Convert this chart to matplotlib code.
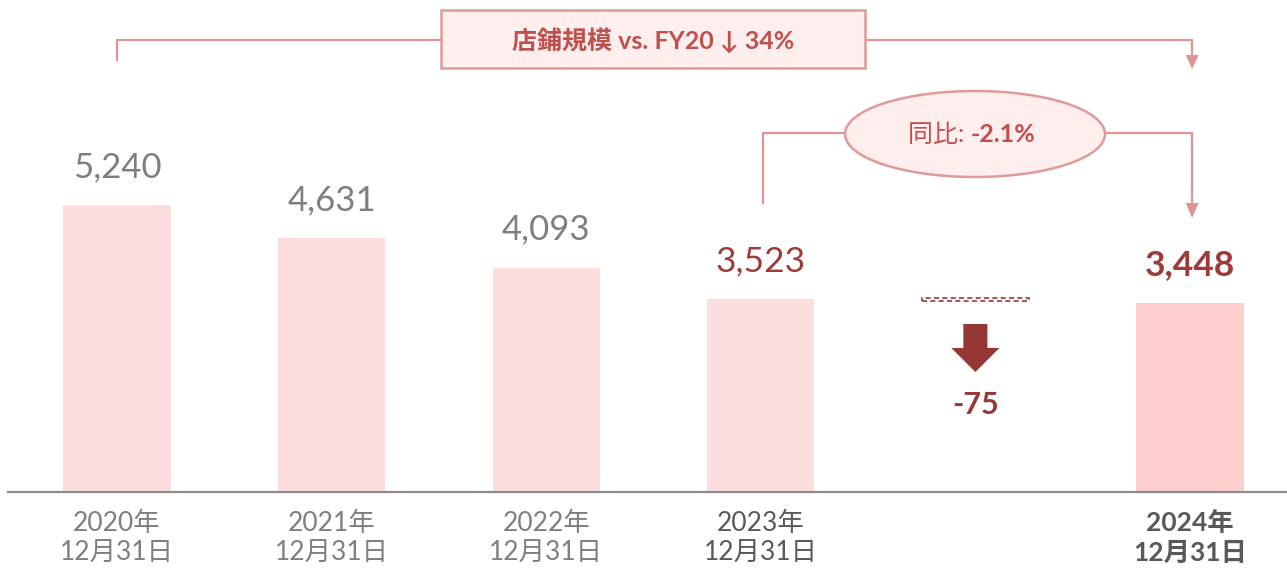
import matplotlib.pyplot as plt
from matplotlib.patches import Ellipse, Rectangle, FancyArrow

plt.rcParams['font.family'] = ['Lato', 'Noto Sans CJK JP', 'DejaVu Sans']

years = ['2020年', '2021年', '2022年', '2023年', '2024年']
dates = ['12月31日'] * 5
stores = [5240, 4631, 4093, 3523, 3448]
slots = [0, 1, 2, 3, 5]          # slot 4 holds the change marker

bar_col = ['#FDDEDE', '#FDDEDE', '#FDDEDE', '#FDDEDE', '#FFCFCF']
val_col = ['#7F7F7F', '#7F7F7F', '#7F7F7F', '#9E3A3A', '#9E3A3A']
val_w = ['normal'] * 4 + ['bold']
tick_col = ['#7F7F7F', '#7F7F7F', '#7F7F7F', '#595959', '#595959']
tick_w = ['normal'] * 4 + ['bold']

line_c = '#E09494'
red = '#C0504D'
dark = '#953735'

fig = plt.figure(figsize=(12.87, 5.70), dpi=100)
ax = fig.add_axes([0, 0, 1, 1])
ax.set_xlim(-0.545, 5.452)
ax.set_ylim(-1424, 8983)
ax.axis('off')

def py(p):
    # pixel row -> data y
    return (492 - p) / 0.05477

def px(p):
    return (p - 117) / 214.6

ax.bar(slots, stores, width=0.5, color=bar_col, zorder=2)
ax.plot([px(8), 5.452], [0, 0], color='#8C8C8C', lw=1.6, zorder=3)

for s, v, c, w in zip(slots, stores, val_col, val_w):
    fs = 25 if s < 3 else 25.5
    ax.annotate(f'{v:,}', (s, v), xytext=(0, 27.5), textcoords='offset points',
                ha='center', va='center', fontsize=fs, color=c, fontweight=w)

for s, y, d, c, w in zip(slots, years, dates, tick_col, tick_w):
    ax.text(s, py(523), y, ha='center', va='center', fontsize=19, color=c, fontweight=w)
    ax.text(s, py(553), d, ha='center', va='center', fontsize=19, color=c, fontweight=w)

# top bracket: FY20 -> FY24
x0, x1 = slots[0], slots[-1] + 0.01
ax.plot([x0, x0, x1, x1], [py(60), py(40), py(40), py(56)], color=line_c, lw=1.6, zorder=1)
ax.fill([x1 - 0.03, x1 + 0.03, x1], [py(55), py(55), py(69)], color=line_c, lw=0)
bw, bh = px(865) - px(441), py(10) - py(68)
ax.add_patch(Rectangle((px(441), py(68)), bw, bh, facecolor='#FFEEEE',
                       edgecolor='#E09A9A', lw=1.8, zorder=4))
drop = round((1 - stores[-1] / stores[0]) * 100)
ax.text((px(441) + px(865)) / 2, py(40), f'店鋪規模 vs. FY20 ↓ {drop}%', ha='center', va='center',
        fontsize=18, color=red, fontweight='bold', zorder=5)

# yoy bracket: FY23 -> FY24
x2 = slots[3] + 0.01
ax.plot([x2, x2, x1, x1], [py(203), py(133), py(133), py(204)], color=line_c, lw=1.6, zorder=1)
ax.fill([x1 - 0.03, x1 + 0.03, x1], [py(203), py(203), py(218)], color=line_c, lw=0)
ax.add_patch(Ellipse((px(975), py(134)), px(1105) - px(845), py(91) - py(177),
                     facecolor='#FFEEEE', edgecolor='#E09A9A', lw=1.8, zorder=4))
yoy = (stores[-1] / stores[-2] - 1) * 100
ax.text(px(975) - 0.02, py(134), '同比: ', ha='right', va='center', fontsize=18,
        color=red, zorder=5)
ax.text(px(975) - 0.02, py(134), f'{yoy:.1f}%', ha='left', va='center', fontsize=18,
        color=red, fontweight='bold', zorder=5)

# change marker
ax.add_patch(Rectangle((4 - 0.25, stores[3] - 40), 0.5, 60, fill=False,
                       edgecolor=dark, lw=1.2, ls=(0, (3, 2)), zorder=3))
ax.add_patch(FancyArrow(4, py(324), 0, py(372) - py(324), width=0.112, head_width=0.224,
                        head_length=py(348) - py(372), length_includes_head=True,
                        color=dark, lw=0, zorder=3))
ax.text(4, py(405), f'{stores[-1] - stores[-2]}', ha='center', va='center', fontsize=22,
        color=dark, fontweight='bold')

fig.savefig('out.png', dpi=100)
